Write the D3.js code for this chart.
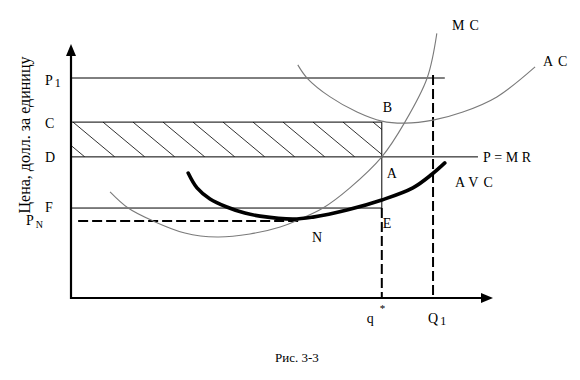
<!DOCTYPE html>
<html><head><meta charset="utf-8">
<script src="https://cdn.jsdelivr.net/npm/d3@7/dist/d3.min.js"></script>
<style>
body{margin:0;background:#fff}
text{font-family:"Liberation Serif","Times New Roman",serif;fill:#000}
</style>
</head><body>
<svg id="chart" width="580" height="380"></svg>
<script>
// ---- data (quantity q on x, price p on y, arbitrary units 0..100) ----
const levelNames = ["P1", "C", "D", "F", "PN"];
const levelValues = [87.3, 69.8, 56, 35.7, 30.6];
const levelLineEnds = [89, 74, 96.9, 74, 54.8];   // where each horizontal line stops (q)
const qNames = ["q*", "Q1"];
const qValues = [74, 86.2];

const mcQ = [9.3, 13.6, 19.5, 27.1, 34.8, 42.6, 49.8, 54.5, 60, 66.4, 74, 79.5, 84.8, 87.1];
const mcP = [42.1, 35.7, 30.6, 25.8, 24.2, 25.4, 28.2, 31.3, 35.7, 43.7, 56, 69.8, 87.3, 105];

const acQ = [54, 56.2, 61.7, 68.1, 74, 79.5, 86.2, 93.3, 101.4, 110.5];
const acP = [92.5, 87.3, 79.8, 73.8, 70.2, 69.4, 70.6, 73.8, 79.8, 91.7];

const avcQ = [27.9, 30, 33.1, 37.1, 41.4, 45, 52.9, 57.6, 65.7, 74, 81.4, 86, 89];
const avcP = [49.6, 43.7, 39.3, 36.1, 33.7, 32.5, 31.3, 32.1, 34.9, 38.9, 43.7, 49.2, 53.6];

const yTitle = "Цена, долл. за единицу";
const caption = "Рис. 3-3";

// ---- drawing ----
const svg = d3.select("#chart");
const x = d3.scaleLinear().domain([0, 100]).range([71, 491]);
const y = d3.scaleLinear().domain([0, 100]).range([298, 46]);

const [P1, C, D, F, PN] = levelValues;
const [qStar, Q1] = qValues;

// hatched rectangle (profit area)
const defs = svg.append("defs");
defs.append("clipPath").attr("id", "hclip").append("rect")
  .attr("x", x(0)).attr("y", y(C)).attr("width", x(qStar) - x(0)).attr("height", y(D) - y(C));
const hatch = svg.append("g").attr("clip-path", "url(#hclip)");
const hTop = y(C), hBot = y(D), hDx = 42 * (hBot - hTop) / 35;
for (let i = -2; i < 12; i++) {
  const x0 = x(0) + 2 + 30 * i;
  hatch.append("line").attr("x1", x0).attr("y1", hTop).attr("x2", x0 + hDx).attr("y2", hBot)
    .attr("stroke", "#333").attr("stroke-width", 1);
}

// horizontal price lines
levelValues.forEach((v, i) => {
  const dashed = levelNames[i] === "PN";
  svg.append("line")
    .attr("x1", dashed ? x(1.7) : x(0)).attr("x2", x(levelLineEnds[i]))
    .attr("y1", y(v)).attr("y2", y(v))
    .attr("stroke", "#000")
    .attr("stroke-width", dashed ? 2 : 1)
    .attr("stroke-dasharray", dashed ? "10,4" : null);
});

// vertical at q*: solid from C to F, dashed below
svg.append("line").attr("x1", x(qStar)).attr("x2", x(qStar)).attr("y1", y(C)).attr("y2", y(F))
  .attr("stroke", "#000").attr("stroke-width", 1);
svg.append("line").attr("x1", x(qStar)).attr("x2", x(qStar)).attr("y1", y(F)).attr("y2", y(0))
  .attr("stroke", "#000").attr("stroke-width", 2).attr("stroke-dasharray", "10,4");
// vertical at Q1 dashed
svg.append("line").attr("x1", x(Q1)).attr("x2", x(Q1)).attr("y1", y(88.5)).attr("y2", y(0))
  .attr("stroke", "#000").attr("stroke-width", 2).attr("stroke-dasharray", "10,4");

// curves
const line = d3.line().x(d => x(d[0])).y(d => y(d[1])).curve(d3.curveCatmullRom.alpha(0.5));
svg.append("path").attr("d", line(d3.zip(mcQ, mcP)))
  .attr("fill", "none").attr("stroke", "#7a7a7a").attr("stroke-width", 1.1);
svg.append("path").attr("d", line(d3.zip(acQ, acP)))
  .attr("fill", "none").attr("stroke", "#7a7a7a").attr("stroke-width", 1.1);
svg.append("path").attr("d", line(d3.zip(avcQ, avcP)))
  .attr("fill", "none").attr("stroke", "#000").attr("stroke-width", 3.6)
  .attr("stroke-linecap", "round");

// axes
const yAxis = svg.append("g").attr("transform", `translate(${x(0)},0)`)
  .call(d3.axisLeft(y).tickValues([]).tickSizeOuter(0));
const xAxis = svg.append("g").attr("transform", `translate(0,${y(0)})`)
  .call(d3.axisBottom(x).tickValues([]).tickSizeOuter(0));
svg.selectAll(".domain").attr("stroke", "#000").attr("stroke-width", 2.2);
xAxis.select(".domain").attr("d", `M${x(0)},0H${x(100) - 6}`);
yAxis.select(".domain").attr("d", `M0,${y(0) + 1}V${y(100) + 6}`);
// arrowheads
svg.append("path").attr("d", `M${x(0)},${y(100) - 2}L${x(0) - 5},${y(100) + 10}L${x(0) + 5},${y(100) + 10}Z`);
svg.append("path").attr("d", `M${x(100) + 2},${y(0)}L${x(100) - 10},${y(0) - 5}L${x(100) - 10},${y(0) + 5}Z`);

// y axis labels
const fs = 14;
function subLabel(px, py, main, sub, subSize, subDy) {
  const t = svg.append("text").attr("x", px).attr("y", py).attr("font-size", fs);
  t.append("tspan").text(main);
  if (sub) t.append("tspan").attr("font-size", subSize).attr("dy", subDy).attr("dx", 2).text(sub);
  return t;
}
const lvlDy = [7, 6, 5, 4, 4];
levelNames.forEach((n, i) => {
  if (n === "PN") {
    subLabel(26, y(levelValues[i]) + lvlDy[i], "P", "N", 10, 3);
  } else {
    subLabel(45, y(levelValues[i]) + lvlDy[i], n[0], n.slice(1), 12, 2);
  }
});

// y title (rotated)
svg.append("text")
  .attr("transform", `translate(30,135) rotate(-90)`)
  .attr("text-anchor", "middle").attr("font-size", 16)
  .text(yTitle);

// x labels
subLabel(x(qStar) - 15, y(0) + 25, "q", "", 0, 0);
svg.append("text").attr("x", x(qStar) - 2).attr("y", y(0) + 14).attr("font-size", 11).text("*");
subLabel(x(Q1) - 5, y(0) + 25, "Q", "1", 12, 2);

// curve/point labels
function lab(px, py, s, ls) {
  svg.append("text").attr("x", px).attr("y", py).attr("font-size", fs)
    .attr("letter-spacing", ls || 0).text(s);
}
lab(452, 30, "MC", 5);
lab(543, 66, "AC", 5);
lab(x(100) - 8, y(D) + 5, "P=MR", 3.5);
lab(455, 187, "AVC", 5);
lab(x(qStar) + 1, y(C) - 10, "B");
lab(x(qStar) + 5, y(D) + 21, "A");
lab(x(qStar) + 1, y(F) + 20, "E");
lab(312, 242, "N");

// caption
svg.append("text").attr("x", 275).attr("y", 362).attr("font-size", 13).text(caption);
</script>
</body></html>
